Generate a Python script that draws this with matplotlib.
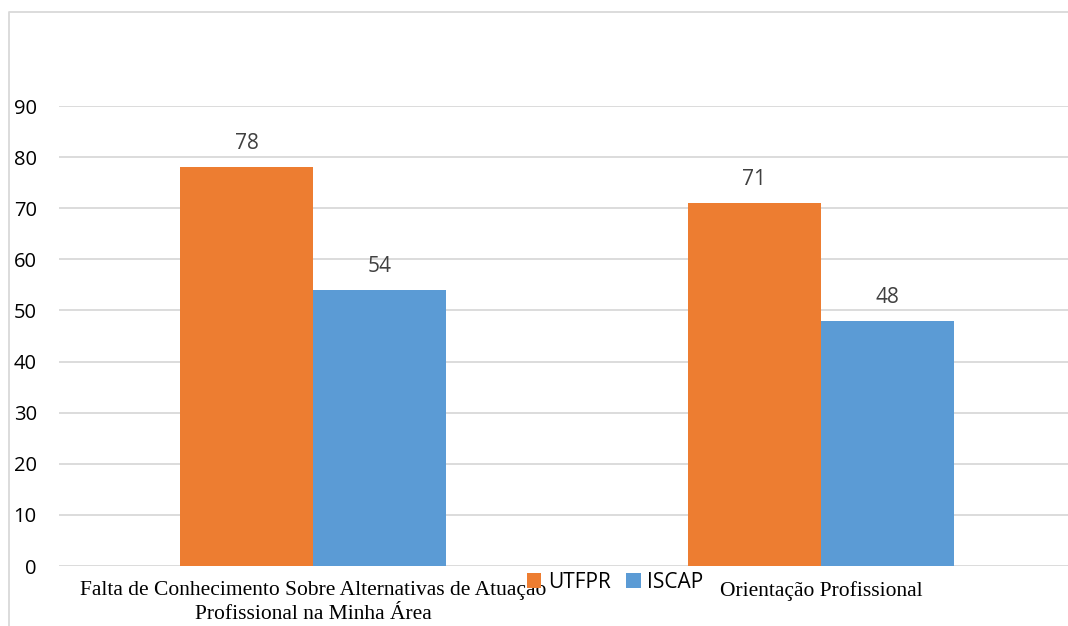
import matplotlib.pyplot as plt
from matplotlib.lines import Line2D
import numpy as np

# data
categories = ['Falta de Conhecimento Sobre Alternativas de Atuação\nProfissional na Minha Área',
              'Orientação Profissional']
series_names = ['UTFPR', 'ISCAP']
utfpr = [78, 71]
iscap = [54, 48]
yticks = [0, 10, 20, 30, 40, 50, 60, 70, 80, 90]

orange = '#ED7D31'
blue = '#5B9BD5'
grid_c = '#d9d9d9'

fig = plt.figure(figsize=(10.68, 6.26), dpi=100)
# plot area runs a bit past the right edge, as in the cropped original
ax = fig.add_axes([59/1068, 60/626, 1016/1068, 460/626])

x = np.arange(len(categories))
w = 0.262
b1 = ax.bar(x - w/2, utfpr, w, color=orange, label=series_names[0], zorder=3)
b2 = ax.bar(x + w/2, iscap, w, color=blue, label=series_names[1], zorder=3)

# data labels
for bars in (b1, b2):
    for r in bars:
        ax.annotate(str(int(r.get_height())), (r.get_x() + r.get_width()/2, r.get_height()),
                    xytext=(0, 17), textcoords='offset points', ha='center', va='center',
                    fontsize=15, color='#404040', family='Open Sans')

ax.set_xlim(-0.5, 1.5)
ax.set_ylim(0, 90)
ax.set_yticks(yticks)
ax.yaxis.grid(True, color=grid_c, linewidth=1.3, zorder=0)
ax.set_axisbelow(True)
for s in ax.spines.values():
    s.set_visible(False)
ax.tick_params(axis='y', length=0, pad=16, labelsize=14.5)
for t in ax.get_yticklabels():
    t.set_family('Open Sans')

ax.set_xticks([])
# category labels in serif, as in the original
for xi, lab in zip(x, categories):
    ax.text(xi, -3.0, lab, ha='center', va='top', fontsize=15.5,
            family='Liberation Serif', linespacing=1.35, transform=ax.transData)

leg = ax.legend(loc='center', bbox_to_anchor=(615/1068, 1 - 582/626),
                bbox_transform=fig.transFigure, ncol=2, frameon=False,
                handlelength=0.7, handleheight=0.7, handletextpad=0.3,
                columnspacing=0.75, prop={'family': 'Open Sans', 'size': 15})
leg.set_zorder(10)

# chart area border (left and top edges visible in the crop)
fig.add_artist(Line2D([9/1068, 9/1068, 1.0], [0.0, 1 - 12/626, 1 - 12/626],
                      transform=fig.transFigure, color=grid_c, linewidth=1.3))

fig.savefig('out.png', dpi=100)
